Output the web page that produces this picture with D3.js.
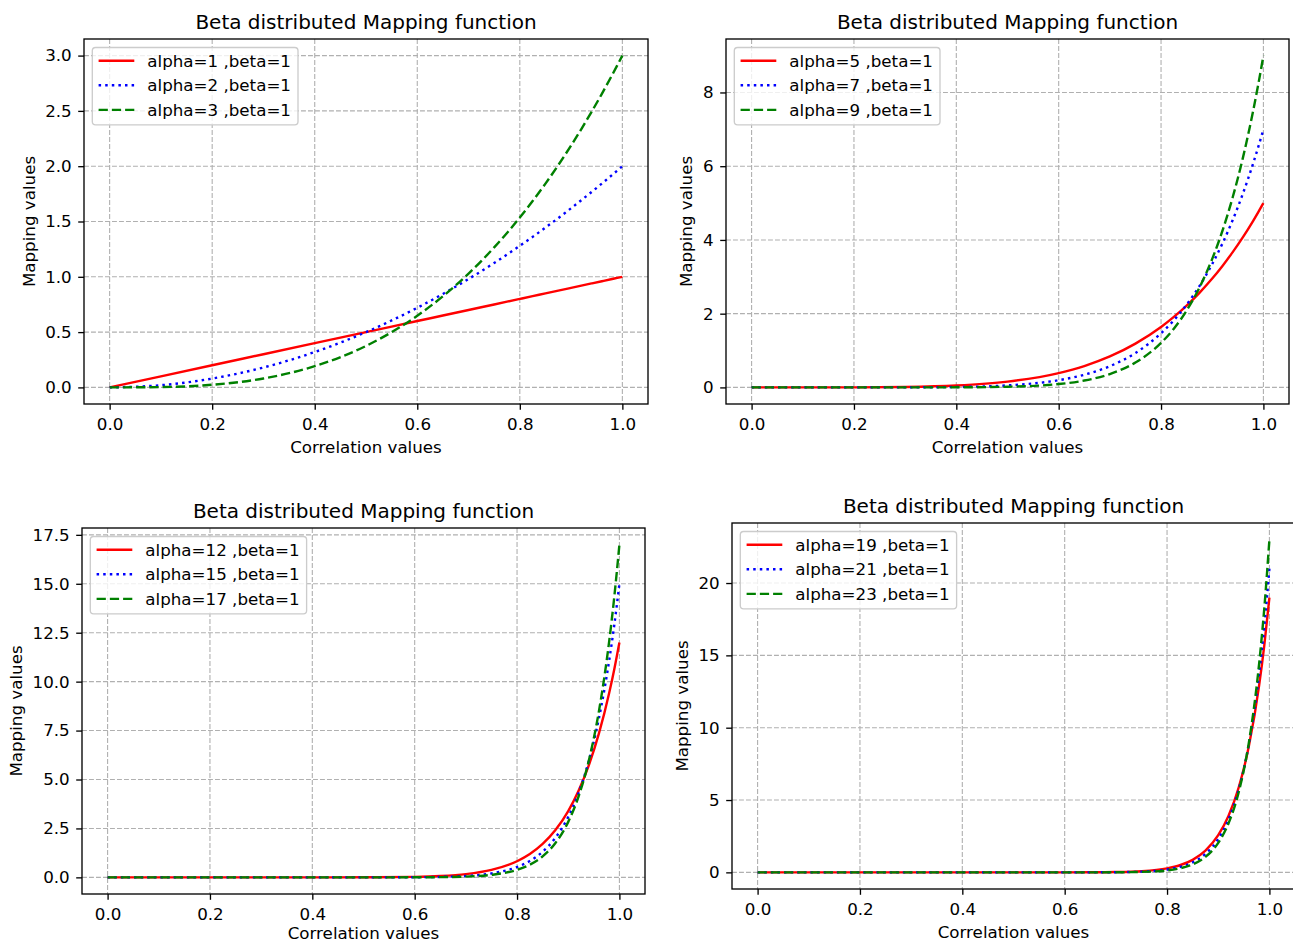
<!DOCTYPE html>
<html>
<head>
<meta charset="utf-8">
<script src="https://cdn.jsdelivr.net/npm/d3@7"></script>
<style>
  html, body { margin: 0; padding: 0; background: #fff; }
  svg { display: block; font-family: "DejaVu Sans", sans-serif; }
</style>
</head>
<body>
<svg id="chart" width="1293" height="943"></svg>
<script>
// ---------------- data ----------------
const xValues = [0, 0.1, 0.2, 0.3, 0.4, 0.5, 0.6, 0.65, 0.7, 0.75, 0.8, 0.825, 0.85, 0.875, 0.9, 0.92, 0.94, 0.96, 0.98, 0.99, 1.0];

const alpha1  = [0, 0.1, 0.2, 0.3, 0.4, 0.5, 0.6, 0.65, 0.7, 0.75, 0.8, 0.825, 0.85, 0.875, 0.9, 0.92, 0.94, 0.96, 0.98, 0.99, 1.0];
const alpha2  = [0, 0.02, 0.08, 0.18, 0.32, 0.5, 0.72, 0.845, 0.98, 1.125, 1.28, 1.361, 1.445, 1.531, 1.62, 1.693, 1.767, 1.843, 1.921, 1.960, 2.0];
const alpha3  = [0, 0.003, 0.024, 0.081, 0.192, 0.375, 0.648, 0.824, 1.029, 1.266, 1.536, 1.685, 1.842, 2.010, 2.187, 2.336, 2.492, 2.654, 2.824, 2.911, 3.0];
const alpha5  = [0, 0.0001, 0.0016, 0.012, 0.051, 0.156, 0.389, 0.580, 0.840, 1.187, 1.638, 1.911, 2.219, 2.565, 2.952, 3.295, 3.670, 4.077, 4.520, 4.755, 5.0];
const alpha7  = [0, 0, 0.0001, 0.0015, 0.011, 0.055, 0.196, 0.343, 0.576, 0.934, 1.468, 1.821, 2.244, 2.749, 3.348, 3.905, 4.539, 5.260, 6.077, 6.524, 7.0];
const alpha9  = [0, 0, 0, 0.0002, 0.0024, 0.0176, 0.091, 0.186, 0.363, 0.676, 1.208, 1.593, 2.085, 2.706, 3.487, 4.249, 5.157, 6.233, 7.504, 8.222, 9.0];
const alpha12 = [0, 0, 0, 0, 0.0002, 0.0029, 0.026, 0.068, 0.166, 0.380, 0.825, 1.193, 1.707, 2.417, 3.389, 4.412, 5.711, 7.353, 9.417, 10.637, 12.0];
const alpha15 = [0, 0, 0, 0, 0, 0.0005, 0.007, 0.023, 0.071, 0.200, 0.528, 0.837, 1.310, 2.024, 3.088, 4.294, 5.929, 8.131, 11.079, 12.901, 15.0];
const alpha17 = [0, 0, 0, 0, 0, 0.0001, 0.003, 0.011, 0.040, 0.128, 0.383, 0.646, 1.073, 1.756, 2.835, 4.119, 5.938, 8.493, 12.058, 14.330, 17.0];
const alpha19 = [0, 0, 0, 0, 0, 0, 0.001, 0.005, 0.022, 0.080, 0.274, 0.491, 0.866, 1.503, 2.567, 3.897, 5.864, 8.748, 12.943, 15.697, 19.0];
const alpha21 = [0, 0, 0, 0, 0, 0, 0.0005, 0.0025, 0.012, 0.050, 0.194, 0.370, 0.692, 1.272, 2.298, 3.646, 5.727, 8.911, 13.739, 17.004, 21.0];
const alpha23 = [0, 0, 0, 0, 0, 0, 0.0002, 0.0011, 0.006, 0.031, 0.136, 0.276, 0.547, 1.066, 2.038, 3.379, 5.542, 8.994, 14.452, 18.253, 23.0];

const xTicks = [0, 0.2, 0.4, 0.6, 0.8, 1.0];
const yTicks1 = [0, 0.5, 1.0, 1.5, 2.0, 2.5, 3.0];
const yTicks2 = [0, 2, 4, 6, 8];
const yTicks3 = [0, 2.5, 5.0, 7.5, 10.0, 12.5, 15.0, 17.5];
const yTicks4 = [0, 5, 10, 15, 20];

const labels1 = ["alpha=1 ,beta=1", "alpha=2 ,beta=1", "alpha=3 ,beta=1"];
const labels2 = ["alpha=5 ,beta=1", "alpha=7 ,beta=1", "alpha=9 ,beta=1"];
const labels3 = ["alpha=12 ,beta=1", "alpha=15 ,beta=1", "alpha=17 ,beta=1"];
const labels4 = ["alpha=19 ,beta=1", "alpha=21 ,beta=1", "alpha=23 ,beta=1"];

const titleText = "Beta distributed Mapping function";
const xLabelText = "Correlation values";
const yLabelText = "Mapping values";

// ---------------- styling / layout ----------------
const seriesStyles = [
  { color: "#ff0000", dash: null },
  { color: "#0000ff", dash: "2.5,4.1" },
  { color: "#008000", dash: "9.25,4" }
];
const FS = 16.7, TFS = 20;

const panels = [
  { box: [84, 648, 39, 404],  ydom: [-0.15, 3.15],  yTicks: yTicks1, fmt: d3.format(".1f"), series: [alpha1, alpha2, alpha3],   labels: labels1 },
  { box: [726, 1289, 39, 404], ydom: [-0.45, 9.45],  yTicks: yTicks2, fmt: d3.format("d"),   series: [alpha5, alpha7, alpha9],   labels: labels2 },
  { box: [82, 645, 528, 894], ydom: [-0.85, 17.85], yTicks: yTicks3, fmt: d3.format(".1f"), series: [alpha12, alpha15, alpha17], labels: labels3 },
  { box: [732, 1295, 523, 889], ydom: [-1.15, 24.15], yTicks: yTicks4, fmt: d3.format("d"), series: [alpha19, alpha21, alpha23], labels: labels4 }
];

const svg = d3.select("#chart");

panels.forEach((p, pi) => {
  const [L, R, T, B] = p.box;
  const x = d3.scaleLinear().domain([-0.05, 1.05]).range([L, R]);
  const y = d3.scaleLinear().domain(p.ydom).range([B, T]);
  const g = svg.append("g");

  const clipId = "clip" + pi;
  svg.append("clipPath").attr("id", clipId)
    .append("rect").attr("x", L).attr("y", T).attr("width", R - L).attr("height", B - T);

  // grid
  const grid = g.append("g").attr("stroke", "#b0b0b0").attr("stroke-width", 1.1)
    .attr("stroke-dasharray", "4.9,2.1").attr("fill", "none");
  xTicks.forEach(t => grid.append("line").attr("x1", x(t)).attr("x2", x(t)).attr("y1", T).attr("y2", B));
  p.yTicks.forEach(t => grid.append("line").attr("x1", L).attr("x2", R).attr("y1", y(t)).attr("y2", y(t)));

  // lines
  const line = d3.line().x((d, i) => x(xValues[i])).y(d => y(d)).curve(d3.curveMonotoneX);
  const lg = g.append("g").attr("clip-path", `url(#${clipId})`);
  p.series.forEach((s, si) => {
    const st = seriesStyles[si];
    lg.append("path").datum(s).attr("d", line)
      .attr("fill", "none").attr("stroke", st.color).attr("stroke-width", 2.4)
      .attr("stroke-dasharray", st.dash);
  });

  // axes
  const xAxis = d3.axisBottom(x).tickValues(xTicks).tickFormat(d3.format(".1f"))
    .tickSize(5.8).tickPadding(8.3);
  const xa = g.append("g").attr("transform", `translate(0,${B})`).call(xAxis);
  const yAxis = d3.axisLeft(y).tickValues(p.yTicks).tickFormat(p.fmt)
    .tickSize(5.8).tickPadding(6.5);
  const ya = g.append("g").attr("transform", `translate(${L},0)`).call(yAxis);
  [xa, ya].forEach(a => {
    a.select(".domain").remove();
    a.selectAll(".tick line").attr("stroke", "#000").attr("stroke-width", 1.33);
    a.selectAll(".tick text").attr("fill", "#000").style("font-size", FS + "px")
      .style("font-family", "'DejaVu Sans', sans-serif");
  });

  // frame
  g.append("rect").attr("x", L).attr("y", T).attr("width", R - L).attr("height", B - T)
    .attr("fill", "none").attr("stroke", "#000").attr("stroke-width", 1.33);

  // title
  g.append("text").attr("x", (L + R) / 2).attr("y", T - 10).attr("text-anchor", "middle")
    .style("font-size", TFS + "px").attr("fill", "#000").text(titleText);

  // x label
  g.append("text").attr("x", (L + R) / 2).attr("y", Math.min(B + 49, 939)).attr("text-anchor", "middle")
    .style("font-size", FS + "px").attr("fill", "#000").text(xLabelText);

  // y label
  const yb = ya.node().getBBox();
  const ylx = L + yb.x - 10.6;
  g.append("text").attr("transform", `translate(${ylx},${(T + B) / 2}) rotate(-90)`)
    .attr("text-anchor", "middle").style("font-size", FS + "px").attr("fill", "#000").text(yLabelText);

  // legend
  const lx = L + 8.3, ly = T + 8.5;
  const leg = g.append("g");
  const frame = leg.append("rect").attr("x", lx).attr("y", ly).attr("rx", 3.3).attr("ry", 3.3)
    .attr("fill", "#fff").attr("fill-opacity", 0.8).attr("stroke", "#cccccc").attr("stroke-width", 1.33);
  let maxW = 0;
  p.labels.forEach((lab, li) => {
    const cy = ly + 13.2 + li * 24.6;
    const st = seriesStyles[li];
    leg.append("line").attr("x1", lx + 6.3).attr("x2", lx + 42).attr("y1", cy).attr("y2", cy)
      .attr("stroke", st.color).attr("stroke-width", 2.4).attr("stroke-dasharray", st.dash);
    const t = leg.append("text").attr("x", lx + 55).attr("y", cy).attr("dy", "0.35em")
      .style("font-size", FS + "px").attr("fill", "#000").text(lab);
    maxW = Math.max(maxW, t.node().getComputedTextLength());
  });
  frame.attr("width", 55 + maxW + 7).attr("height", 13.2 + 2 * 24.6 + 15);
});
</script>
</body>
</html>
